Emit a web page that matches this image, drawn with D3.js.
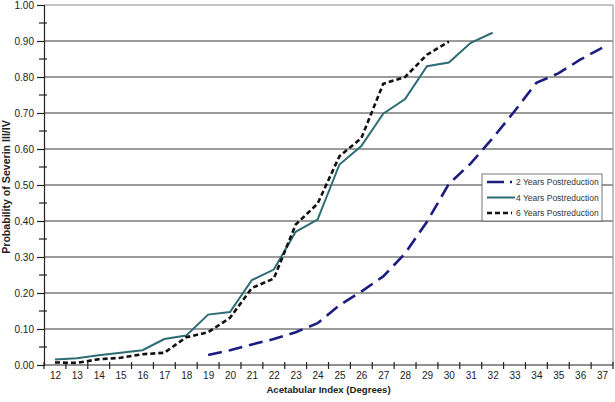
<!DOCTYPE html>
<html><head><meta charset="utf-8">
<script src="https://cdn.jsdelivr.net/npm/d3@7"></script>
<style>body{margin:0;background:#fff}svg{display:block;font-family:Arial,"Liberation Sans",sans-serif}</style>
</head><body><svg id="c" width="615" height="402"></svg>
<script>
const categories = [12,13,14,15,16,17,18,19,20,21,22,23,24,25,26,27,28,29,30,31,32,33,34,35,36,37];
const yTicks = [0,0.1,0.2,0.3,0.4,0.5,0.6,0.7,0.8,0.9,1.0];
const twoYears  = [null,null,null,null,null,null,null,0.028,0.041,0.057,0.072,0.091,0.116,0.166,0.204,0.246,0.310,0.398,0.503,0.560,0.630,0.705,0.784,0.810,0.848,0.881];
const fourYears = [0.015,0.019,0.027,0.034,0.041,0.072,0.082,0.140,0.147,0.236,0.265,0.370,0.404,0.557,0.608,0.698,0.739,0.830,0.840,0.895,0.923,null,null,null,null,null];
const sixYears  = [0.007,0.006,0.016,0.020,0.030,0.034,0.077,0.091,0.131,0.214,0.240,0.390,0.448,0.580,0.630,0.781,0.800,0.862,0.898,null,null,null,null,null,null,null];
const seriesNames = ["2 Years Postreduction","4 Years Postreduction","6 Years Postreduction"];

const L=44, R=613, T=5, B=365;
const svg = d3.select("#c");
const x = d3.scalePoint().domain(categories).range([L,R]).padding(0.5);
const xb = d3.scaleBand().domain(categories).range([L,R]);
const y = d3.scaleLinear().domain([0,1]).range([B,T]);

// gridlines
svg.append("g").selectAll("line").data(yTicks.filter(d=>d>0)).join("line")
  .attr("x1",L).attr("x2",R).attr("y1",d=>y(d)).attr("y2",d=>y(d))
  .attr("stroke",d=>d===1?"#b0b0b0":"#7a7a7a").attr("stroke-width",1.3);
// right border
svg.append("line").attr("x1",R).attr("x2",R).attr("y1",T).attr("y2",B).attr("stroke","#a0a0a0").attr("stroke-width",1.3);

// y axis
const ya = svg.append("g").attr("transform",`translate(${L},0)`)
  .call(d3.axisLeft(y).tickValues(yTicks).tickFormat(d3.format(".2f")).tickSize(7).tickPadding(3));
ya.select(".domain").attr("stroke","#222").attr("stroke-width",1.2);
ya.selectAll(".tick line").attr("stroke","#222").attr("stroke-width",1.2);
ya.selectAll("text").attr("font-size",10).attr("fill","#222");
// minor ticks
svg.append("g").selectAll("line").data(yTicks.slice(0,-1).map(d=>d+0.05)).join("line")
  .attr("x1",L-5).attr("x2",L+3).attr("y1",d=>y(d)).attr("y2",d=>y(d)).attr("stroke","#222").attr("stroke-width",1.2);

// x axis
svg.append("line").attr("x1",L).attr("x2",R).attr("y1",B).attr("y2",B).attr("stroke","#222").attr("stroke-width",1.2);
const bounds = categories.map(c=>xb(c)).concat([R]);
svg.append("g").selectAll("line").data(bounds).join("line")
  .attr("x1",d=>d).attr("x2",d=>d).attr("y1",B-3).attr("y2",B+4).attr("stroke","#222").attr("stroke-width",1.2);
const xa = svg.append("g").attr("transform",`translate(0,${B})`)
  .call(d3.axisBottom(x).tickSize(0).tickPadding(7));
xa.select(".domain").remove();
xa.selectAll("text").attr("font-size",10).attr("fill","#222");

// titles
svg.append("text").attr("x",(L+R)/2).attr("y",393).attr("text-anchor","middle")
  .attr("font-size",9.6).attr("font-weight","bold").attr("fill","#222").text("Acetabular Index (Degrees)");
svg.append("text").attr("transform",`translate(10,${(T+B)/2+2}) rotate(-90)`).attr("text-anchor","middle")
  .attr("font-size",10.6).attr("font-weight","bold").attr("fill","#222").text("Probability of Severin III/IV");

// lines
const styles = [
  {data:twoYears, color:"#1c1c82", width:2.6, dash:"14,7"},
  {data:fourYears, color:"#2e6c75", width:2, dash:null},
  {data:sixYears, color:"#111", width:2.6, dash:"5,3"}
];
const line = d3.line().defined(d=>d.v!=null).x(d=>x(d.c)).y(d=>y(d.v));
styles.forEach(s=>{
  svg.append("path").datum(categories.map((c,i)=>({c,v:s.data[i]})))
    .attr("d",line).attr("fill","none").attr("stroke",s.color).attr("stroke-width",s.width)
    .attr("stroke-dasharray",s.dash).attr("stroke-linejoin","miter");
});

// legend
const lg = svg.append("g").attr("transform","translate(482,174)");
lg.append("rect").attr("x",0).attr("y",0).attr("width",120).attr("height",47).attr("fill","#fff").attr("stroke","#555").attr("stroke-width",0.8);
const ldash = ["17,6",null,"5,3"];
seriesNames.forEach((n,i)=>{
  const yy = 8 + i*15.5;
  lg.append("line").attr("x1",5).attr("x2",i===1?33:30).attr("y1",yy).attr("y2",yy)
    .attr("stroke",styles[i].color).attr("stroke-width",styles[i].width).attr("stroke-dasharray",ldash[i]);
  lg.append("text").attr("x",34).attr("y",yy+3).attr("font-size",8.5).attr("fill","#333").text(n);
});
</script></body></html>
